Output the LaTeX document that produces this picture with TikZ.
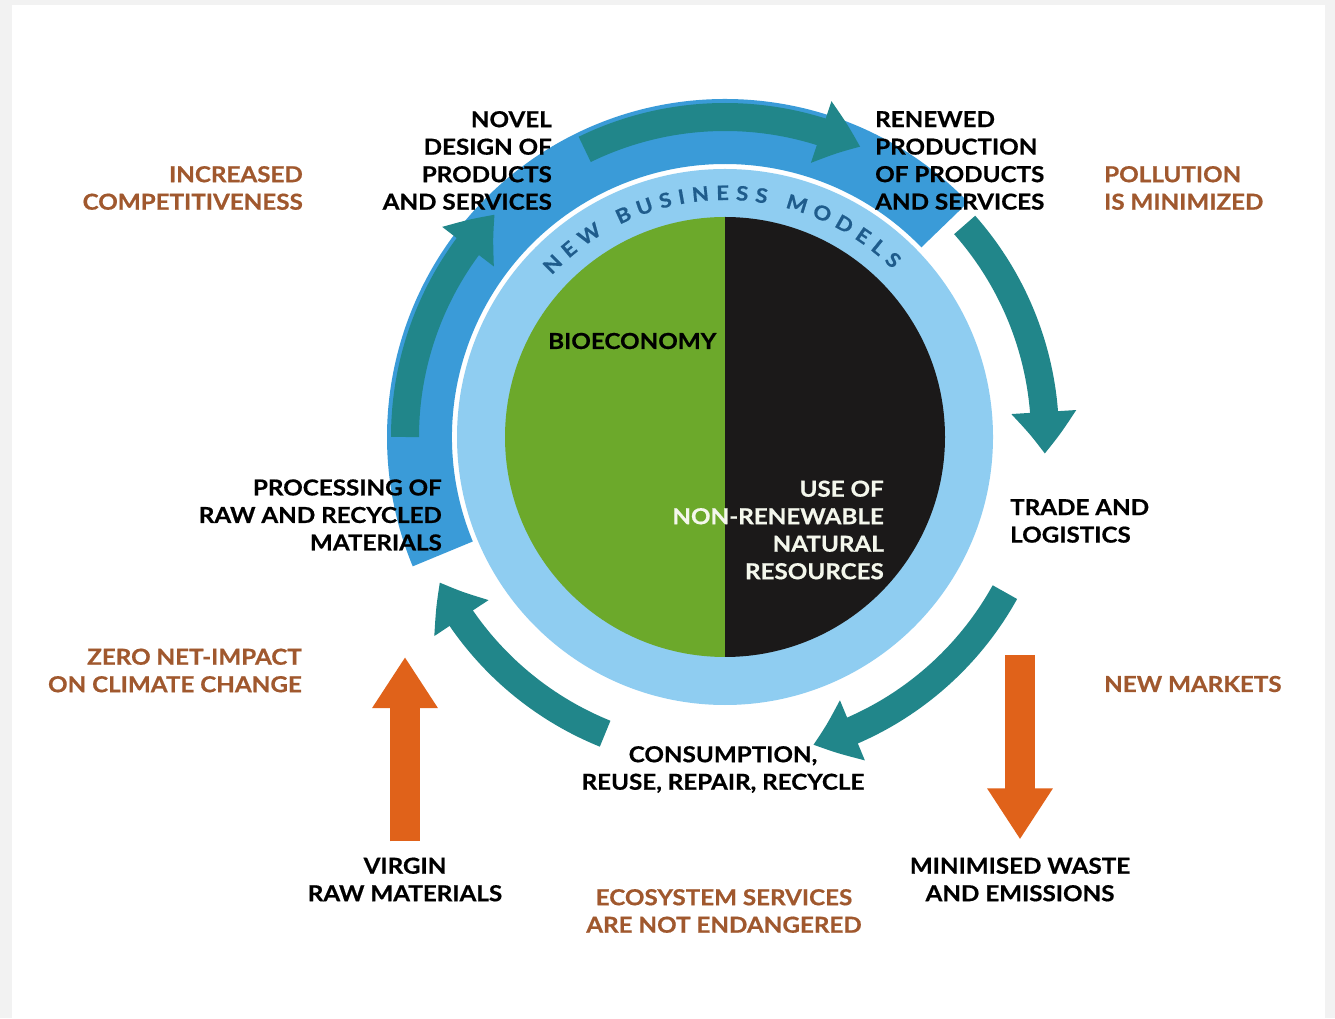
\documentclass[tikz,border=0pt]{standalone}
\usepackage{fontspec}
\setmainfont{Lato}[BoldFeatures={FakeStretch=1.1, FakeBold=0.6}]
\usetikzlibrary{arrows.meta,bending,decorations.text}

\definecolor{cFrame}{HTML}{F2F2F2}
\definecolor{cBlue}{HTML}{3A9BD8}
\definecolor{cRing}{HTML}{8FCDF1}
\definecolor{cTeal}{HTML}{21868A}
\definecolor{cGreen}{HTML}{6CA92B}
\definecolor{cBlack}{HTML}{1B1919}
\definecolor{cOrange}{HTML}{E0621A}
\definecolor{cBrown}{HTML}{A0582E}
\definecolor{cNavy}{HTML}{1F5C8C}
\definecolor{cPale}{HTML}{F4F7EC}

\begin{document}
\begin{tikzpicture}[x=1pt, y=1pt,
	lbl/.style={font=\fontsize{22}{27.5}\selectfont\bfseries, inner sep=0pt, text=black},
	brownlbl/.style={lbl, text=cBrown},
	cyclearrow/.style={draw=cTeal, line width=28pt, -{Triangle[width=62pt, length=42pt, bend]}},
	flowarrow/.style={draw=cOrange, line width=30pt, -{Triangle[width=62pt, length=51pt]}}]
	%frame
	\fill[cFrame] (0,0) rectangle (1335,1018);
	\fill[white] (12,0) rectangle (1325,1013);
	\useasboundingbox (0,0) rectangle (1335,1018);
	
	\coordinate (c) at (725,581);
	
	%outer blue band
	\fill[cBlue] ([shift={(202.5:273)}]c) arc[start angle=202.5, end angle=44, radius=273]
		-- ([shift={(44:338)}]c) arc[start angle=44, end angle=202.5, radius=338] -- cycle;
	
	%ring and the two halves
	\fill[cRing] (c) circle[radius=268];
	\fill[cGreen] ([shift={(90:220)}]c) arc[start angle=90, end angle=270, radius=220] -- cycle;
	\fill[cBlack] ([shift={(-90:220)}]c) arc[start angle=-90, end angle=90, radius=220] -- cycle;
	
	%cycle arrows
	\foreach \a/\b in {180/136, 116/65, 41.5/-3, -29/-74, 248/207}{
		\draw[cyclearrow] ([shift={(\a:320)}]c) arc[start angle=\a, end angle=\b, radius=320];
	}
	
	%ring text
	\path[decorate, decoration={text along path, text color=cNavy,
		text={|\fontsize{20}{20}\selectfont\bfseries|NEW BUSINESS MODELS}, text align=fit to path}]
		([shift={(137:237)}]c) arc[start angle=137, end angle=45, radius=237];
	
	%labels
	\node[brownlbl, anchor=east, align=right] (compet) at (303,830) {INCREASED\\COMPETITIVENESS};
	\node[lbl, anchor=east, align=right] (design) at (552,857.5) {NOVEL\\DESIGN OF\\PRODUCTS\\AND SERVICES};
	\node[lbl, anchor=west, align=left] (production) at (875,857.5) {RENEWED\\PRODUCTION\\OF PRODUCTS\\AND SERVICES};
	\node[brownlbl, anchor=west, align=left] (pollution) at (1104,830) {POLLUTION\\IS MINIMIZED};
	\node[lbl, anchor=west] (bio) at (548,677) {BIOECONOMY};
	\node[lbl, anchor=east, align=right, text=cPale] (nonrenew) at (884,488) {USE OF\\NON-RENEWABLE\\NATURAL\\RESOURCES};
	\node[lbl, anchor=east, align=right] (processing) at (442,503) {PROCESSING OF\\RAW AND RECYCLED\\MATERIALS};
	\node[lbl, anchor=west, align=left] (trade) at (1010,497) {TRADE AND\\LOGISTICS};
	\node[brownlbl, anchor=east, align=right] (climate) at (302,347.5) {ZERO NET-IMPACT\\ON CLIMATE CHANGE};
	\node[brownlbl, anchor=west] (markets) at (1104,334) {NEW MARKETS};
	\node[lbl, align=center] (consumption) at (723,248.5) {CONSUMPTION,\\REUSE, REPAIR, RECYCLE};
	\node[lbl, align=center] (virgin) at (405,138.5) {VIRGIN\\RAW MATERIALS};
	\node[brownlbl, align=center] (ecosystem) at (724,107) {ECOSYSTEM SERVICES\\ARE NOT ENDANGERED};
	\node[lbl, align=center] (waste) at (1020,138.5) {MINIMISED WASTE\\AND EMISSIONS};
	
	%inputs and outputs
	\coordinate (virgintip) at (405,361);
	\coordinate (wastetop) at (1020,363);
	\draw[flowarrow] ([yshift=16pt]virgin.north) -- (virgintip);
	\draw[flowarrow] (wastetop) -- ([yshift=18pt]waste.north);
	
\end{tikzpicture}
\end{document}
